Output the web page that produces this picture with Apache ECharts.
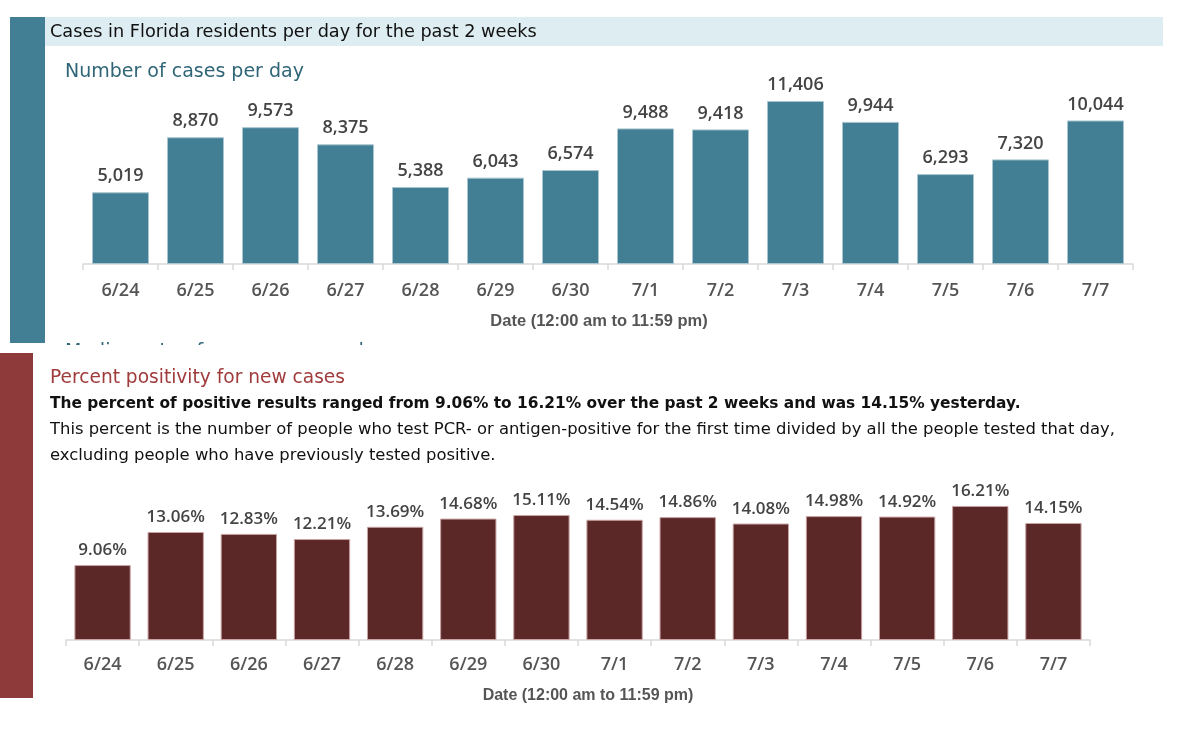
<!DOCTYPE html>
<html><head><meta charset="utf-8">
<script src="https://cdn.jsdelivr.net/npm/echarts@6/dist/echarts.min.js"></script>
<style>html,body{margin:0;padding:0;background:#fff}#c{width:1200px;height:745px}</style>
</head><body><div id="c"></div>
<script>
const categories = ['6/24','6/25','6/26','6/27','6/28','6/29','6/30','7/1','7/2','7/3','7/4','7/5','7/6','7/7'];
const casesPerDay = [5019, 8870, 9573, 8375, 5388, 6043, 6574, 9488, 9418, 11406, 9944, 6293, 7320, 10044];
const percentPositive = [9.06, 13.06, 12.83, 12.21, 13.69, 14.68, 15.11, 14.54, 14.86, 14.08, 14.98, 14.92, 16.21, 14.15];
const headerText = 'Cases in Florida residents per day for the past 2 weeks';
const topSubtitle = 'Number of cases per day';
const hiddenSubtitle = 'Median rate of new cases per day';
const bottomTitle = 'Percent positivity for new cases';
const bottomBold = 'The percent of positive results ranged from 9.06% to 16.21% over the past 2 weeks and was 14.15% yesterday.';
const bottomLine1 = 'This percent is the number of people who test PCR- or antigen-positive for the first time divided by all the people tested that day,';
const bottomLine2 = 'excluding people who have previously tested positive.';
const axisName = 'Date (12:00 am to 11:59 pm)';

const TXT = 'DejaVu Sans';
const NUM = 'Open Sans';
const chart = echarts.init(document.getElementById('c'));
const axisCommon = {
  type: 'category',
  axisLine: {lineStyle: {color: '#d9d9d9', width: 1.5}},
  axisTick: {show: true, length: 6, lineStyle: {color: '#d9d9d9', width: 1.5}}
};
const nameStyle = {fontFamily: 'Liberation Sans', fontWeight: 'bold', fill: '#555', align: 'center', verticalAlign: 'middle'};
chart.setOption({
  animation: false,
  grid: [
    {left: 83, width: 1050, top: 92.5, height: 171.5},
    {left: 66, width: 1024, top: 474.6, height: 165.4}
  ],
  xAxis: [
    Object.assign({}, axisCommon, {gridIndex: 0, data: categories,
      axisLabel: {margin: 18, fontFamily: NUM, fontSize: 18, fontWeight: 600, color: '#555'}}),
    Object.assign({}, axisCommon, {gridIndex: 1, data: categories,
      axisLabel: {margin: 16, fontFamily: NUM, fontSize: 18, fontWeight: 600, color: '#555'}})
  ],
  yAxis: [
    {gridIndex: 0, type: 'value', min: 0, max: 12000, show: false, splitLine: {show: false}},
    {gridIndex: 1, type: 'value', min: 0, max: 20, show: false, splitLine: {show: false}}
  ],
  series: [
    {type: 'bar', xAxisIndex: 0, yAxisIndex: 0, data: casesPerDay, barCategoryGap: '24%',
      itemStyle: {color: '#437f94', borderColor: '#a9c6d0', borderWidth: 1},
      label: {show: true, position: 'top', distance: 7, fontFamily: NUM, fontSize: 18, fontWeight: 600, color: '#444',
        formatter: p => p.value.toLocaleString('en-US')}},
    {type: 'bar', xAxisIndex: 1, yAxisIndex: 1, data: percentPositive, barCategoryGap: '23%',
      itemStyle: {color: '#5c2727', borderColor: '#c9a3a3', borderWidth: 1},
      label: {show: true, position: 'top', distance: 6, fontFamily: NUM, fontSize: 17, fontWeight: 600, color: '#444',
        formatter: p => p.value.toFixed(2) + '%'}}
  ],
  graphic: [
    {type: 'text', z: -10, left: 65, top: 343, style: {text: hiddenSubtitle, fontFamily: TXT, fontSize: 19, fill: '#2f6577'}},
    {type: 'rect', z: -9, shape: {x: 46, y: 345, width: 1154, height: 400}, style: {fill: '#fff'}},
    {type: 'rect', z: -8, shape: {x: 10, y: 17, width: 35, height: 326}, style: {fill: '#437f94'}},
    {type: 'rect', z: -8, shape: {x: 45, y: 17, width: 1118, height: 29}, style: {fill: '#deedf2'}},
    {type: 'rect', z: -8, shape: {x: 0, y: 353, width: 33, height: 345}, style: {fill: '#8e3a3a'}},
    {type: 'text', z: 5, left: 50, top: 23, style: {text: headerText, fontFamily: TXT, fontSize: 17.7, fill: '#111'}},
    {type: 'text', z: 5, left: 65, top: 63, style: {text: topSubtitle, fontFamily: TXT, fontSize: 19, fill: '#2f6577'}},
    {type: 'text', z: 5, left: 50, top: 369, style: {text: bottomTitle, fontFamily: TXT, fontSize: 18.6, fill: '#a03c3c'}},
    {type: 'text', z: 5, left: 50, top: 396, style: {text: bottomBold, fontFamily: TXT, fontSize: 15.4, fontWeight: 'bold', fill: '#111'}},
    {type: 'text', z: 5, left: 50, top: 422, style: {text: bottomLine1, fontFamily: TXT, fontSize: 16.4, fill: '#111'}},
    {type: 'text', z: 5, left: 50, top: 448, style: {text: bottomLine2, fontFamily: TXT, fontSize: 16.4, fill: '#111'}},
    {type: 'text', z: 5, x: 599, y: 321, style: Object.assign({text: axisName, fontSize: 16.5}, nameStyle)},
    {type: 'text', z: 5, x: 588, y: 696, style: Object.assign({text: axisName, fontSize: 16}, nameStyle)}
  ]
});
</script></body></html>
